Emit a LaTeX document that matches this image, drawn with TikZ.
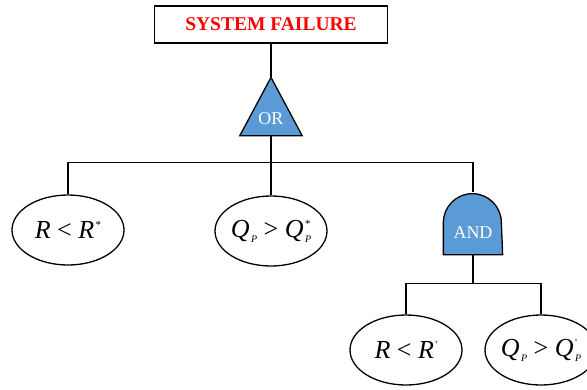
\documentclass[tikz,border=0pt]{standalone}
\usepackage{fontspec}
\setmainfont{Liberation Serif}
\usetikzlibrary{shapes.geometric, backgrounds}

\definecolor{gateblue}{RGB}{91,155,213}

% small indices for the event labels
\newcommand{\lowidx}[1]{\raisebox{-5pt}{\fontsize{10}{10}\selectfont\kern1.5pt\textit{#1}}}
\newcommand{\highidx}[1]{\raisebox{10pt}{\fontsize{11}{11}\selectfont\kern1.5pt#1}}
\newcommand{\bothidx}[2]{\rlap{\highidx{#1}}\lowidx{#2}}
\newcommand{\evtext}[1]{\makebox[0pt]{#1}}

\begin{document}
\begin{tikzpicture}[
    x=1pt, y=-1pt, line width=1.3pt,
    event/.style={draw, ellipse, minimum width=112pt, minimum height=70pt,
                  inner sep=0pt, font=\fontsize{26}{30}\selectfont},
    gatetxt/.style={inner sep=0pt, text=white, font=\fontsize{18}{20}\selectfont},
    gate/.style={draw, fill=gateblue, line width=1.3pt},
    wire/.style={draw, line width=1.3pt}
  ]
  \useasboundingbox (0,0) rectangle (587,389);

  \node[draw, minimum width=233pt, minimum height=37pt, inner sep=0pt,
        text=red, font=\fontsize{19.5}{22}\selectfont\bfseries]
    (top) at (271,24.5) {SYSTEM FAILURE};

  % gates: text nodes, shapes go on the background
  \node[gatetxt, minimum width=61pt, text height=46pt, text depth=11pt]
    (orgate) at (271,106.5) {OR};
  \node[gatetxt, minimum width=58pt, text height=45pt, text depth=16pt]
    (andgate) at (473,223.5) {AND};

  \node[event] (rlow)   at (68,230)
    {\evtext{\textit{R} < \textit{R}\highidx{*}}};
  \node[event] (qhigh)  at (271,231)
    {\evtext{\textit{Q}\lowidx{P} > \textit{Q}\bothidx{*}{P}}};
  \node[event] (rlow2)  at (406,350)
    {\evtext{\textit{R} < \textit{R}\highidx{\textquotesingle}}};
  \node[event] (qhigh2) at (541,350)
    {\evtext{\textit{Q}\lowidx{P} > \textit{Q}\bothidx{\textquotesingle}{P}}};

  \begin{pgfonlayer}{background}
    \draw[gate] (orgate.south west) -- (orgate.north)
      -- (orgate.south east) -- cycle;
    \draw[gate] (andgate.south west) -- ++(0,-32) arc (180:360:29)
      -- (andgate.south east) -- cycle;
  \end{pgfonlayer}

  \draw[wire] (top) -- (orgate.north);
  \draw[wire] (orgate.south) -- (qhigh.north);
  \draw[wire] (orgate.south) ++(0,27) coordinate (bus) -| (rlow.north);
  \draw[wire] (bus) -| (andgate.north);
  \draw[wire] (andgate.south) -- ++(0,29) coordinate (bus2) -| (rlow2.north);
  \draw[wire] (bus2) -| (qhigh2.north);
\end{tikzpicture}
\end{document}
